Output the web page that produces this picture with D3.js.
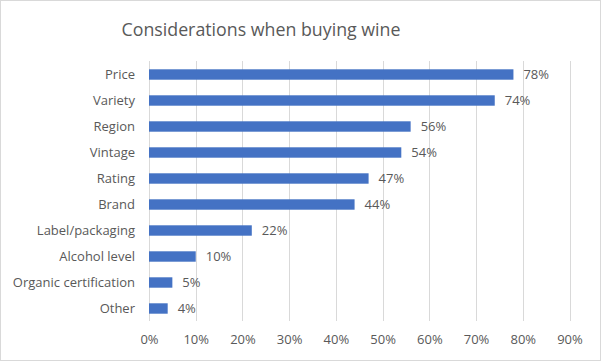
<!DOCTYPE html>
<html><head><meta charset="utf-8">
<script src="https://cdn.jsdelivr.net/npm/d3@7"></script>
<style>body{margin:0;background:#fff}svg{display:block}</style>
</head><body>
<svg id="c" width="601" height="361"></svg>
<script>
const categories = ["Price","Variety","Region","Vintage","Rating","Brand","Label/packaging","Alcohol level","Organic certification","Other"];
const values = [78,74,56,54,47,44,22,10,5,4];
const ticks = [0,10,20,30,40,50,60,70,80,90];
const title = "Considerations when buying wine";

const svg = d3.select("#c");
const W = 601, H = 361;
const font = "'Open Sans', sans-serif";
svg.append("rect").attr("x",0.5).attr("y",0.5).attr("width",W-1).attr("height",H-1)
  .attr("fill","#fff").attr("stroke","#d9d9d9");

const x = d3.scaleLinear().domain([0,90]).range([149,569.5]);
const y = d3.scaleBand().domain(categories).range([61.5,321.5]).paddingInner(0.6).paddingOuter(0.3);

svg.append("text").attr("x",261).attr("y",35.5).attr("text-anchor","middle")
  .attr("font-family",font).attr("font-size",17.8).attr("fill","#595959").text(title);

const g = svg.append("g");
g.selectAll("line.grid").data(ticks).join("line")
  .attr("x1",d=>Math.round(x(d))+0.5).attr("x2",d=>Math.round(x(d))+0.5)
  .attr("y1",61).attr("y2",321).attr("stroke","#d9d9d9").attr("stroke-width",1);

const xa = d3.axisBottom(x).tickValues(ticks).tickFormat(d=>d+"%").tickSize(0).tickPadding(0);
const xg = svg.append("g").attr("transform","translate(0,335)").call(xa);
xg.select(".domain").remove();
xg.selectAll("text").attr("font-family",font).attr("font-size",13).attr("fill","#595959");

const ya = d3.axisLeft(y).tickSize(0).tickPadding(14);
const yg = svg.append("g").attr("transform","translate(149,0)").call(ya);
yg.select(".domain").remove();
yg.selectAll("text").attr("font-family",font).attr("font-size",13).attr("fill","#595959");

const data = categories.map((c,i)=>({c,v:values[i]}));
svg.selectAll("rect.bar").data(data).join("rect").attr("class","bar")
  .attr("x",x(0)).attr("y",d=>y(d.c)).attr("width",d=>x(d.v)-x(0)).attr("height",y.bandwidth())
  .attr("fill","#4472C4");
svg.selectAll("text.val").data(data).join("text").attr("class","val")
  .attr("x",d=>x(d.v)+10).attr("y",d=>y(d.c)+y.bandwidth()/2).attr("dy","0.35em")
  .attr("font-family",font).attr("font-size",13).attr("fill","#595959").text(d=>d.v+"%");
</script>
</body></html>
